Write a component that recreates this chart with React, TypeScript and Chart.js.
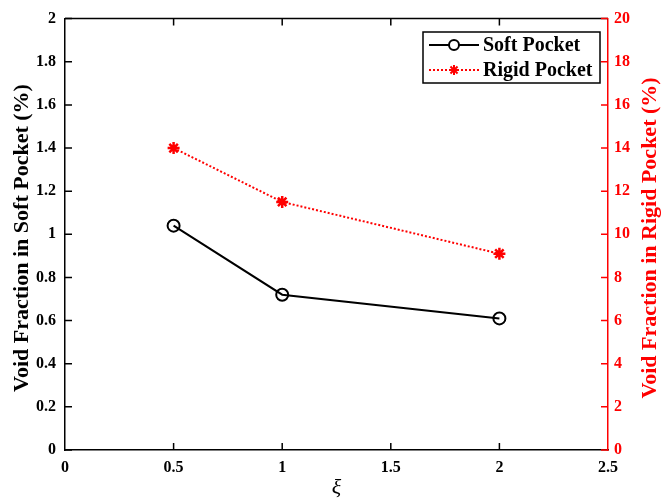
import React, { useEffect, useRef } from 'react';
import { Chart, registerables } from 'chart.js';
Chart.register(...registerables);

const xValues = [0.5, 1, 2];
const softPocket = [1.04, 0.72, 0.61];
const rigidPocket = [14, 11.5, 9.1];
const xTickValues = [0, 0.5, 1, 1.5, 2, 2.5];
const leftTickValues = [0, 0.2, 0.4, 0.6, 0.8, 1, 1.2, 1.4, 1.6, 1.8, 2];
const rightTickValues = [0, 2, 4, 6, 8, 10, 12, 14, 16, 18, 20];
const seriesNames = ['Soft Pocket', 'Rigid Pocket'];
const leftTitle = 'Void Fraction in Soft Pocket (%)';
const rightTitle = 'Void Fraction in Rigid Pocket (%)';
const xTitle = 'ξ';

const FONT = "'Liberation Serif', 'Times New Roman', serif";
const RED = '#ff0000';

const fmt = (v: number) => String(Number(v.toFixed(2)));

const boxPlugin = {
  id: 'boxPlugin',
  afterDraw(chart: any) {
    const ctx = chart.ctx;
    const { left, right, top, bottom } = chart.chartArea;
    const xs = chart.scales.x;
    const yl = chart.scales.y;
    const yr = chart.scales.y1;
    const TL = 7;
    ctx.save();
    // top border
    ctx.strokeStyle = '#000';
    ctx.lineWidth = 1.5;
    ctx.beginPath();
    ctx.moveTo(left, top);
    ctx.lineTo(right, top);
    ctx.stroke();
    // x ticks (bottom and top), inward
    ctx.beginPath();
    xTickValues.forEach((v) => {
      const px = xs.getPixelForValue(v);
      if (v === xTickValues[0] || v === xTickValues[xTickValues.length - 1]) return;
      ctx.moveTo(px, bottom);
      ctx.lineTo(px, bottom - TL);
      ctx.moveTo(px, top);
      ctx.lineTo(px, top + TL);
    });
    // left y ticks
    leftTickValues.forEach((v) => {
      const py = yl.getPixelForValue(v);
      ctx.moveTo(left, py);
      ctx.lineTo(left + TL, py);
    });
    ctx.stroke();
    // right y ticks
    ctx.strokeStyle = RED;
    ctx.beginPath();
    rightTickValues.forEach((v) => {
      const py = yr.getPixelForValue(v);
      ctx.moveTo(right, py);
      ctx.lineTo(right - TL, py);
    });
    ctx.stroke();

    // axis titles, reading bottom-to-top
    const titleY = 238;
    ctx.font = `bold 22px ${FONT}`;
    ctx.textAlign = 'center';
    ctx.textBaseline = 'middle';
    ctx.save();
    ctx.translate(22, titleY);
    ctx.rotate(-Math.PI / 2);
    ctx.fillStyle = '#000';
    ctx.fillText(leftTitle, 0, 0);
    ctx.restore();
    ctx.save();
    ctx.translate(650, titleY);
    ctx.rotate(-Math.PI / 2);
    ctx.fillStyle = RED;
    ctx.fillText(rightTitle, 0, 0);
    ctx.restore();

    // legend
    const bx = 423, by = 32, bw = 177, bh = 51;
    ctx.fillStyle = '#fff';
    ctx.fillRect(bx, by, bw, bh);
    ctx.strokeStyle = '#000';
    ctx.lineWidth = 1.5;
    ctx.strokeRect(bx, by, bw, bh);
    const rows = [45, 70];
    const lx0 = 429, lx1 = 479, mx = 454;
    // soft
    ctx.setLineDash([]);
    ctx.strokeStyle = '#000';
    ctx.lineWidth = 2;
    ctx.beginPath();
    ctx.moveTo(lx0, rows[0]);
    ctx.lineTo(mx - 5, rows[0]);
    ctx.moveTo(mx + 5, rows[0]);
    ctx.lineTo(lx1, rows[0]);
    ctx.stroke();
    ctx.beginPath();
    ctx.arc(mx, rows[0], 5, 0, Math.PI * 2);
    ctx.stroke();
    // rigid
    ctx.strokeStyle = RED;
    ctx.setLineDash([2, 2]);
    ctx.beginPath();
    ctx.moveTo(lx0, rows[1]);
    ctx.lineTo(lx1, rows[1]);
    ctx.stroke();
    ctx.setLineDash([]);
    ctx.beginPath();
    const r = 5;
    for (let i = 0; i < 4; i++) {
      const a = (i * Math.PI) / 4;
      ctx.moveTo(mx - r * Math.cos(a), rows[1] - r * Math.sin(a));
      ctx.lineTo(mx + r * Math.cos(a), rows[1] + r * Math.sin(a));
    }
    ctx.stroke();
    ctx.fillStyle = '#000';
    ctx.font = `bold 20px ${FONT}`;
    ctx.textBaseline = 'middle';
    ctx.textAlign = 'left';
    ctx.fillText(seriesNames[0], 483, rows[0] + 1);
    ctx.fillText(seriesNames[1], 483, rows[1] + 1);
    ctx.restore();
  },
};

export default function App() {
  const ref = useRef<HTMLCanvasElement>(null);
  useEffect(() => {
    if (!ref.current) return;
    const chart = new Chart(ref.current, {
      type: 'line',
      data: {
        datasets: [
          {
            label: seriesNames[0],
            data: xValues.map((x, i) => ({ x, y: softPocket[i] })),
            yAxisID: 'y',
            borderColor: '#000',
            backgroundColor: 'rgba(0,0,0,0)',
            borderWidth: 2,
            pointStyle: 'circle',
            pointRadius: 6,
            pointBorderWidth: 2,
            pointBorderColor: '#000',
            pointBackgroundColor: 'rgba(0,0,0,0)',
            tension: 0,
          },
          {
            label: seriesNames[1],
            data: xValues.map((x, i) => ({ x, y: rigidPocket[i] })),
            yAxisID: 'y1',
            borderColor: RED,
            backgroundColor: RED,
            borderWidth: 2,
            borderDash: [2, 2],
            pointStyle: 'star',
            pointRadius: 6,
            pointBorderWidth: 2.5,
            pointBorderColor: RED,
            pointBackgroundColor: RED,
            tension: 0,
          },
        ],
      },
      options: {
        responsive: false,
        animation: false,
        devicePixelRatio: 1,
        layout: { padding: { top: 18, left: 0, right: 0, bottom: 0 } },
        plugins: { legend: { display: false }, tooltip: { enabled: false } },
        scales: {
          x: {
            type: 'linear',
            min: 0,
            max: 2.5,
            afterBuildTicks: (s: any) => { s.ticks = xTickValues.map((v) => ({ value: v })); },
            afterFit: (s: any) => { s.height = 51; },
            grid: { display: false, drawTicks: false, tickLength: 0 },
            border: { display: true, color: '#000', width: 1.5 },
            ticks: {
              color: '#000',
              padding: 8,
              maxRotation: 0,
              autoSkip: false,
              font: { family: FONT, size: 16, weight: 'bold' },
              callback: (v: any) => fmt(Number(v)),
            },
            title: {
              display: true,
              text: xTitle,
              color: '#000',
              padding: { top: 0, bottom: 2 },
              font: { family: FONT, size: 22, style: 'italic', lineHeight: 1 },
            },
          },
          y: {
            type: 'linear',
            position: 'left',
            min: 0,
            max: 2,
            afterBuildTicks: (s: any) => { s.ticks = leftTickValues.map((v) => ({ value: v })); },
            afterFit: (s: any) => { s.width = 65; },
            grid: { display: false, drawTicks: false, tickLength: 0 },
            border: { display: true, color: '#000', width: 1.5 },
            ticks: {
              color: '#000',
              padding: 9,
              autoSkip: false,
              font: { family: FONT, size: 16, weight: 'bold' },
              callback: (v: any) => fmt(Number(v)),
            },
            title: { display: false },
          },
          y1: {
            type: 'linear',
            position: 'right',
            min: 0,
            max: 20,
            afterBuildTicks: (s: any) => { s.ticks = rightTickValues.map((v) => ({ value: v })); },
            afterFit: (s: any) => { s.width = 54; },
            grid: { display: false, drawTicks: false, tickLength: 0 },
            border: { display: true, color: RED, width: 1.5 },
            ticks: {
              color: RED,
              padding: 6,
              autoSkip: false,
              font: { family: FONT, size: 16, weight: 'bold' },
              callback: (v: any) => fmt(Number(v)),
            },
            title: { display: false },
          },
        },
      },
      plugins: [boxPlugin],
    } as any);
    return () => chart.destroy();
  }, []);
  return (
    <div style={{ position: 'fixed', left: 0, top: 0, width: 662, height: 501, background: '#fff' }}>
      <canvas ref={ref} width={662} height={501} style={{ width: 662, height: 501 }} />
    </div>
  );
}
